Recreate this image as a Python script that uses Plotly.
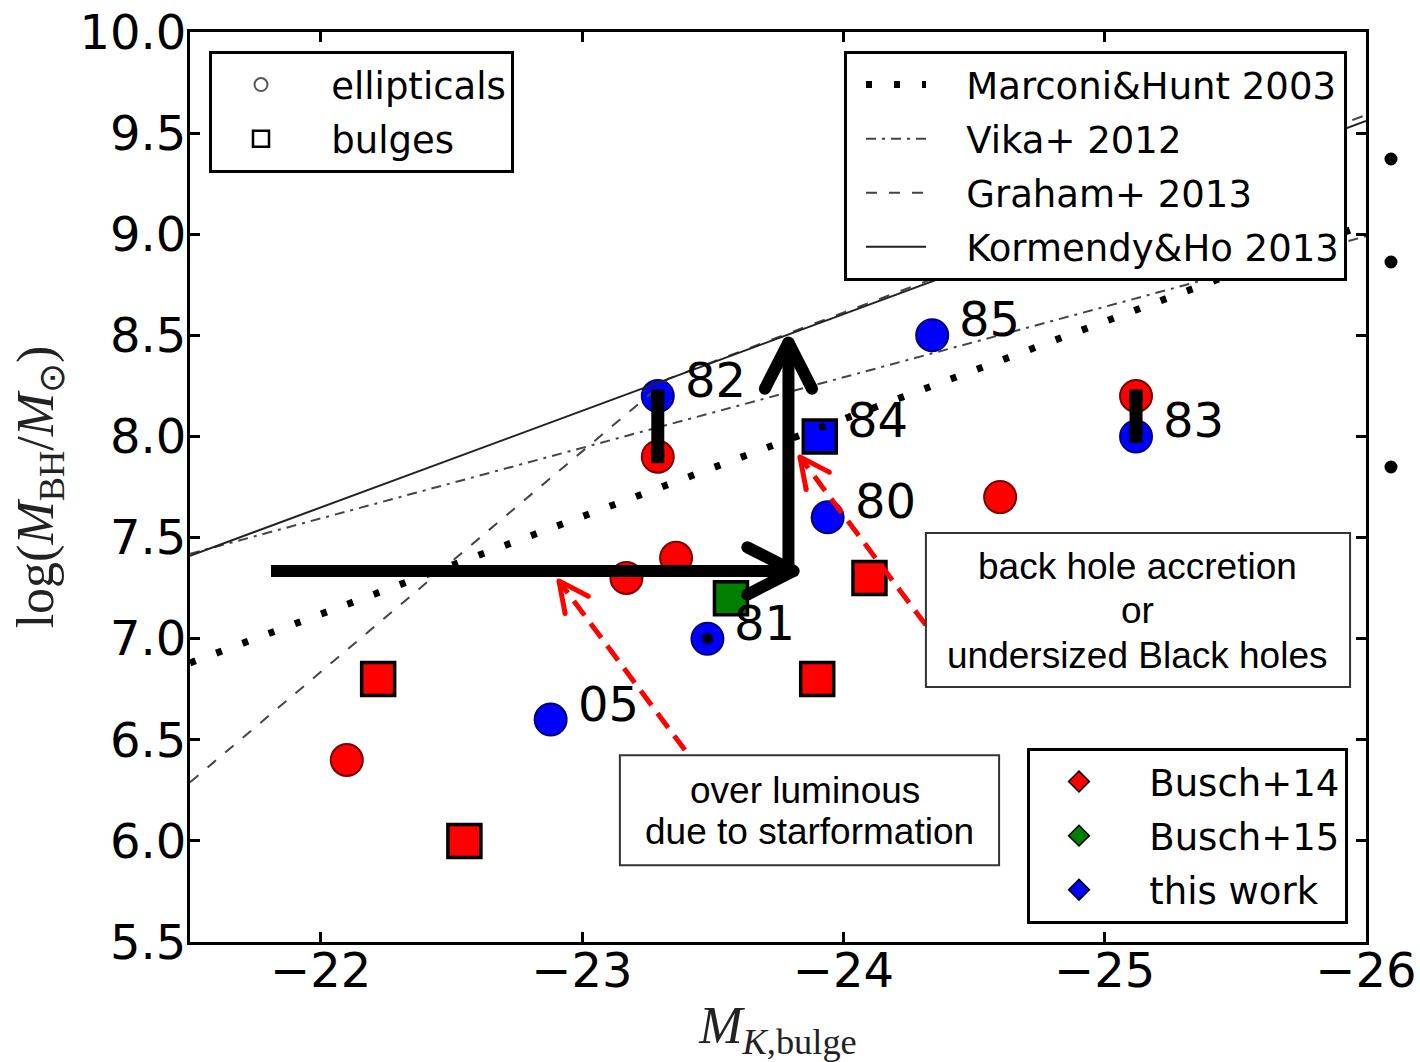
import math
import plotly.graph_objects as go

# ---------------------------------------------------------------- data
# Busch+14 (ellipticals = circles, bulges = squares)
busch14_ell_x = [-22.10, -23.17, -23.36, -23.29, -24.60, -25.12]
busch14_ell_y = [6.40, 7.30, 7.40, 7.90, 7.70, 8.20]
busch14_bul_x = [-22.22, -22.55, -23.90, -24.10]
busch14_bul_y = [6.80, 6.00, 6.80, 7.30]

# Busch+15
busch15_bul_x = [-23.57]
busch15_bul_y = [7.20]

# this work
this_ell_x = [-22.88, -23.48, -23.94, -23.29, -24.34, -25.12]
this_ell_y = [6.60, 7.00, 7.60, 8.20, 8.50, 8.00]
this_ell_names = ["05", "81", "80", "82", "85", "83"]
this_bul_x = [-23.91]
this_bul_y = [8.00]
this_bul_names = ["84"]

# galaxies measured in both works (index into this_ell / busch14_ell)
pair_this_idx = [3, 5]
pair_b14_idx = [3, 5]

# scaling relations
marconi_x = [-21.5, -26.0]
marconi_y = [6.88, 9.05]
vika_x = [-21.5, -26.0]
vika_y = [7.42, 8.99]
graham_x = [-21.5, -23.33, -26.0]
graham_y = [6.29, 8.285, 9.59]
kormendy_x = [-21.5, -26.0]
kormendy_y = [7.41, 9.56]

# black arrows: (tail, tip)
shift_tail_x = [-21.81, -23.79]
shift_tail_y = [7.335, 7.335]
shift_tip_x = [-23.81, -23.79]
shift_tip_y = [7.335, 8.465]

# red dashed pointers from the text boxes
note_tail_x = [-23.394, -24.316]
note_tail_y = [6.449, 7.067]
note_tip_x = [-22.912, -23.834]
note_tip_y = [7.285, 7.898]

# text boxes
box_x0 = [-23.145, -24.316]
box_x1 = [-24.596, -25.939]
box_y0 = [5.880, 6.761]
box_y1 = [6.424, 7.522]
box_lines = [["over luminous", "due to starformation"],
             ["back hole accretion", "or", "undersized Black holes"]]
box_line_x = [[-23.853, -23.872], [-25.124, -25.124, -25.124]]
box_line_y = [[6.251, 6.044], [7.359, 7.137, 6.919]]

x_range = [-21.5, -26.0]
y_range = [5.5, 10.0]

# ---------------------------------------------------------------- layout geometry
W, H = 1420, 1062
M_L, M_R, M_T, M_B = 190, 54, 32, 120
PLOT_W = W - M_L - M_R
PLOT_H = H - M_T - M_B
PX_X = PLOT_W / abs(x_range[1] - x_range[0])
PX_Y = PLOT_H / abs(y_range[1] - y_range[0])


def arrow_arms(tail, tip, length_px, angle_deg):
    """Two chevron arm end points (data units) for an arrow tip."""
    dx = (tip[0] - tail[0]) * -PX_X
    dy = (tip[1] - tail[1]) * -PX_Y
    n = math.hypot(dx, dy)
    ux, uy = -dx / n, -dy / n
    arms = []
    for s in (1, -1):
        a = math.radians(angle_deg) * s
        rx = ux * math.cos(a) - uy * math.sin(a)
        ry = ux * math.sin(a) + uy * math.cos(a)
        arms.append((tip[0] - rx * length_px / PX_X, tip[1] - ry * length_px / PX_Y))
    return arms


fig = go.Figure()

# ---------------------------------------------------------------- points
fig.add_trace(go.Scatter(
    x=busch14_ell_x, y=busch14_ell_y, mode="markers", showlegend=False,
    marker=dict(symbol="circle", size=32, color="#ff0000",
                line=dict(color="#7a0000", width=2))))
fig.add_trace(go.Scatter(
    x=busch14_bul_x, y=busch14_bul_y, mode="markers", showlegend=False,
    marker=dict(symbol="square", size=33, color="#ff0000",
                line=dict(color="black", width=3.5))))
fig.add_trace(go.Scatter(
    x=busch15_bul_x, y=busch15_bul_y, mode="markers", showlegend=False,
    marker=dict(symbol="square", size=33, color="#007f00",
                line=dict(color="black", width=3.5))))
fig.add_trace(go.Scatter(
    x=this_ell_x, y=this_ell_y, mode="markers", showlegend=False,
    marker=dict(symbol="circle", size=32, color="#0000ff",
                line=dict(color="#00007a", width=2))))
fig.add_trace(go.Scatter(
    x=this_bul_x, y=this_bul_y, mode="markers", showlegend=False,
    marker=dict(symbol="square", size=33, color="#0000ff",
                line=dict(color="black", width=3.5))))
# nucleus marker on galaxy 81
i81 = this_ell_names.index("81")
fig.add_trace(go.Scatter(
    x=[this_ell_x[i81]], y=[this_ell_y[i81]], mode="markers", showlegend=False,
    marker=dict(symbol="circle", size=11, color="black",
                line=dict(color="#00007a", width=2))))

# ---------------------------------------------------------------- relations
SP = "\u00a0\u00a0\u00a0"
fig.add_trace(go.Scatter(
    x=marconi_x, y=marconi_y, mode="lines", name=SP + "Marconi&amp;Hunt 2003",
    legend="legend2", legendgroup="mh",
    line=dict(color="black", width=7, dash="6px,22px")))
fig.add_trace(go.Scatter(
    x=vika_x, y=vika_y, mode="lines", name=SP + "Vika+ 2012", legend="legend2",
    legendgroup="vk", line=dict(color="#444444", width=2, dash="10px,6px,3px,6px")))
fig.add_trace(go.Scatter(
    x=graham_x, y=graham_y, mode="lines", name=SP + "Graham+ 2013", legend="legend2",
    legendgroup="gr", line=dict(color="#444444", width=2, dash="11px,12px")))
fig.add_trace(go.Scatter(
    x=kormendy_x, y=kormendy_y, mode="lines", name=SP + "Kormendy&amp;Ho 2013",
    legend="legend2", legendgroup="kh", line=dict(color="#222222", width=2)))

# ---------------------------------------------------------------- bars joining paired estimates
for ti, bi in zip(pair_this_idx, pair_b14_idx):
    fig.add_trace(go.Scatter(
        x=[this_ell_x[ti], busch14_ell_x[bi]], y=[this_ell_y[ti], busch14_ell_y[bi]],
        mode="lines+markers", showlegend=False, line=dict(color="black", width=13),
        marker=dict(symbol="square", size=13, color="black")))

# ---------------------------------------------------------------- black arrows
for tx, ty, hx, hy in zip(shift_tail_x, shift_tail_y, shift_tip_x, shift_tip_y):
    fig.add_trace(go.Scatter(x=[tx, hx], y=[ty, hy], mode="lines", showlegend=False,
                             line=dict(color="black", width=12)))
    (a1x, a1y), (a2x, a2y) = arrow_arms((tx, ty), (hx, hy), 52, 27)
    fig.add_trace(go.Scatter(x=[a1x, hx, a2x], y=[a1y, hy, a2y], mode="lines+markers",
                             showlegend=False, line=dict(color="black", width=12),
                             marker=dict(size=12, color="black")))

# ---------------------------------------------------------------- red pointers
for tx, ty, hx, hy in zip(note_tail_x, note_tail_y, note_tip_x, note_tip_y):
    fig.add_trace(go.Scatter(x=[tx, hx], y=[ty, hy], mode="lines", showlegend=False,
                             line=dict(color="#ff0000", width=5, dash="18px,10px")))
    (a1x, a1y), (a2x, a2y) = arrow_arms((tx, ty), (hx, hy), 33, 26)
    fig.add_trace(go.Scatter(x=[a1x, hx, a2x], y=[a1y, hy, a2y], mode="lines+markers",
                             showlegend=False, line=dict(color="#ff0000", width=5),
                             marker=dict(size=5, color="#ff0000")))

# ---------------------------------------------------------------- legend-only entries
fig.add_trace(go.Scatter(x=[None], y=[None], mode="markers", name=SP + "ellipticals",
                         legend="legend", legendgroup="el",
                         marker=dict(symbol="circle-open", size=13, color="#555555",
                                     line=dict(width=2))))
fig.add_trace(go.Scatter(x=[None], y=[None], mode="markers", name=SP + "bulges",
                         legend="legend", legendgroup="bu",
                         marker=dict(symbol="square-open", size=16, color="black",
                                     line=dict(width=2.5))))
for nm, col in [("Busch+14", "#ff0000"), ("Busch+15", "#007f00"), ("this work", "#0000ff")]:
    fig.add_trace(go.Scatter(x=[None], y=[None], mode="markers", name=SP + nm,
                             legend="legend3", legendgroup=nm,
                             marker=dict(symbol="diamond", size=19, color=col,
                                         line=dict(color="black", width=1.5))))

# ---------------------------------------------------------------- galaxy labels
label_font = dict(family="DejaVu Sans", size=48, color="black")
for x, y, t in zip(this_ell_x + this_bul_x, this_ell_y + this_bul_y,
                   this_ell_names + this_bul_names):
    fig.add_annotation(x=x, y=y, text=t, showarrow=False, xanchor="left",
                       yanchor="middle", xshift=25, yshift=16, font=label_font)

# ---------------------------------------------------------------- text boxes
box_font = dict(family="Liberation Sans", size=37, color="black")
for k in range(len(box_lines)):
    fig.add_shape(type="rect", x0=box_x0[k], x1=box_x1[k], y0=box_y0[k], y1=box_y1[k],
                  xref="x", yref="y", layer="above", fillcolor="white",
                  line=dict(color="#333333", width=2))
    for txt, lx, ly in zip(box_lines[k], box_line_x[k], box_line_y[k]):
        fig.add_annotation(x=lx, y=ly, text=txt, showarrow=False, xanchor="center",
                           yanchor="middle", font=box_font)

# ---------------------------------------------------------------- bullets beside the frame
for yp in [159, 262, 467]:
    cx = (1391 - M_L) / PLOT_W
    cy = (H - M_B - yp) / PLOT_H
    r = 6.5
    fig.add_shape(type="circle", xref="paper", yref="paper",
                  x0=cx - r / PLOT_W, x1=cx + r / PLOT_W,
                  y0=cy - r / PLOT_H, y1=cy + r / PLOT_H,
                  fillcolor="black", line=dict(width=0))

# ---------------------------------------------------------------- axes & legends
axis_common = dict(showgrid=False, zeroline=False, showline=True, linecolor="black",
                   linewidth=3, mirror="ticks", ticks="inside", ticklen=10,
                   tickwidth=3, tickcolor="black", automargin=False,
                   tickfont=dict(family="DejaVu Sans", size=48, color="black"))

legend_common = dict(bgcolor="white", bordercolor="black", borderwidth=3,
                     font=dict(family="DejaVu Sans", size=37, color="black"),
                     traceorder="grouped", tracegroupgap=3, itemwidth=60,
                     indentation=14)

fig.update_layout(
    width=W, height=H,
    margin=dict(l=M_L, r=M_R, t=M_T, b=M_B, autoexpand=False),
    paper_bgcolor="white", plot_bgcolor="white",
    xaxis=dict(range=x_range, dtick=1, autorange=False, ticklabelstandoff=-16,
               title=dict(text="<i>M</i><sub><i>K</i>,bulge</sub>", standoff=26,
                          font=dict(family="Liberation Serif", size=52, color="#222222")),
               **axis_common),
    yaxis=dict(range=y_range, dtick=0.5, tickformat=".1f", autorange=False,
               ticklabelstandoff=-9,
               title=dict(text="log(<i>M</i><sub>BH</sub>/<i>M</i><sub>⊙</sub>)",
                          standoff=10,
                          font=dict(family="Liberation Serif", size=52, color="#222222")),
               **axis_common),
    legend=dict(x=(209 - M_L) / PLOT_W, y=(H - M_B - 51) / PLOT_H,
                xanchor="left", yanchor="top", **legend_common),
    legend2=dict(x=(1347 - M_L) / PLOT_W, y=(H - M_B - 51) / PLOT_H,
                 xanchor="right", yanchor="top", **legend_common),
    legend3=dict(x=(1348 - M_L) / PLOT_W, y=(H - M_B - 924) / PLOT_H,
                 xanchor="right", yanchor="bottom", **legend_common),
)

fig.write_html("out.html")
